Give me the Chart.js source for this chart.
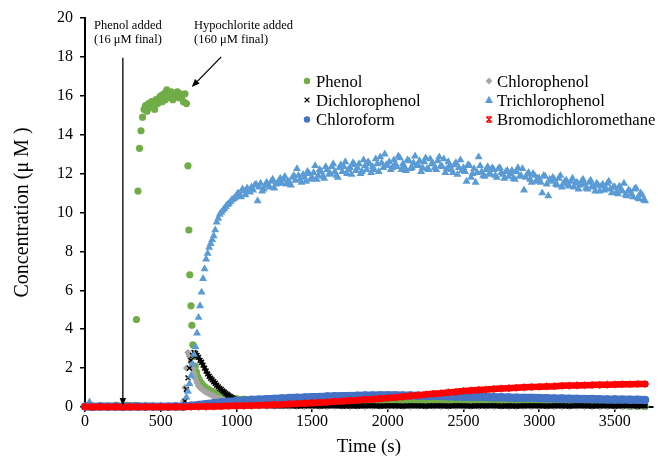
<!DOCTYPE html>
<html><head><meta charset="utf-8">
<script src="https://cdn.jsdelivr.net/npm/chart.js@4.4.1/dist/chart.umd.min.js"></script>
<style>html,body{margin:0;padding:0;background:#fff;}#wrap{width:658px;height:460px;}</style>
</head><body><div id="wrap"><canvas id="c" width="658" height="460"></canvas></div>
<script>
// ---------- tick labels / text ----------
const xTicks = [0,500,1000,1500,2000,2500,3000,3500];
const yTicks = [0,2,4,6,8,10,12,14,16,18,20];
const xTitle = "Time (s)";
const yTitle = "Concentration (\u03bc M )";
const seriesNames = ["Phenol","Chlorophenol","Dichlorophenol","Trichlorophenol","Chloroform","Bromodichloromethane"];
const note1 = ["Phenol added","(16 \u03bcM final)"];
const note2 = ["Hypochlorite added","(160 \u03bcM final)"];

// ---------- shared time grids (s) ----------
const headT50 = [0,50,100,150,200,250,300,350,400,450,500,550,600,650,700,750,800,850,900,950,1000];
const tailT = [1050,1100,1150,1200,1250,1300,1350,1400,1450,1500,1550,1600,1650,1700,1750,1800,1850,1900,1950,2000,
  2050,2100,2150,2200,2250,2300,2350,2400,2450,2500,2550,2600,2650,2700,2750,2800,2850,2900,2950,3000,
  3050,3100,3150,3200,3250,3300,3350,3400,3450,3500,3550,3600,3650,3700];

// ---------- Phenol ----------
const phenolHeadT = [0,60,120,180,210,275,330,
  340,350,360,370,380,390,400,410,420,430,440,450,460,470,480,490,500,510,520,530,540,550,560,570,580,590,600,610,620,630,640,650,660,670,
  680,686,692,700,706,712,720,728,736,745,755,765,775,790,805,820,840,860,880,900,925,950,975,1000];
const phenolHeadY = [0.02,0.01,0.03,0.02,0.08,0.08,0.08,
  4.5,11.1,13.3,14.2,14.9,15.3,15.5,15.2,15.6,15.4,
  15.7,15.5,15.3,15.8,15.6,15.9,16.0,15.7,16.1,15.8,
  16.3,16.0,15.9,16.2,15.8,16.1,16.0,16.2,15.9,16.1,
  16.0,15.7,16.1,15.6,
  12.4,9.1,6.8,5.2,4.2,3.2,2.6,2.1,1.8,1.55,1.4,1.25,1.15,1.05,0.95,0.88,0.8,0.72,0.66,0.6,0.55,0.5,0.46,0.42];
const phenolTailY = [0.40,0.41,0.38,0.39,0.37,0.38,0.36,0.37,0.35,0.36,
  0.34,0.35,0.33,0.34,0.32,0.33,0.31,0.32,0.30,0.31,
  0.29,0.30,0.28,0.29,0.27,0.28,0.26,0.27,0.25,0.26,
  0.24,0.23,0.23,0.21,0.21,0.19,0.19,0.17,0.16,0.15,
  0.14,0.13,0.13,0.11,0.10,0.10,0.08,0.07,0.07,0.05,
  0.05,0.04,0.04,0.03];

// ---------- Chlorophenol ----------
const cpHeadT = [0,100,200,300,400,500,600,
  650,660,670,680,690,700,710,720,730,740,750,760,770,780,790,800,810,820,830,840,850,860,870,880,890,900,920,940,960,980,1000];
const cpHeadY = [0.01,0.01,0.01,0.01,0.01,0.01,0.01,
  0.3,1.0,2.0,2.8,2.6,2.3,2.0,1.7,1.45,1.25,
  1.08,1.0,0.93,0.87,0.81,0.76,0.72,0.68,0.64,0.6,
  0.56,0.53,0.5,0.46,0.43,0.4,
  0.34,0.28,0.22,0.17,0.12];
const cpTailY = [0.05,0.04,0.04,0.03,0.03,0.04,0.03,0.03,0.02,0.03,
  0.03,0.02,0.03,0.03,0.02,0.03,0.02,0.03,0.03,0.02,
  0.03,0.02,0.02,0.03,0.02,0.03,0.02,0.02,0.03,0.02,
  0.02,0.03,0.02,0.02,0.03,0.02,0.02,0.03,0.02,0.02,
  0.03,0.02,0.02,0.02,0.03,0.02,0.02,0.02,0.03,0.02,
  0.02,0.02,0.03,0.02];

// ---------- Dichlorophenol ----------
const dcpHeadT = [0,50,100,150,200,250,300,350,400,450,500,550,600,650,
  660,670,680,690,700,710,720,730,740,750,760,770,780,790,800,810,820,830,840,850,
  860,870,880,890,900,910,920,930,940,950,960,970,980,990,1000,1010,1020,1030,1040];
const dcpHeadY = [0.02,0.01,0.02,0.02,0.01,0.02,0.02,0.01,0.02,0.02,0.01,0.02,0.02,0.03,
  0.3,0.9,1.5,2.0,2.4,2.65,2.8,2.75,2.65,2.55,
  2.4,2.3,2.15,2.0,1.85,1.7,1.58,1.48,1.4,1.3,
  1.22,1.12,1.04,0.96,0.9,0.83,0.77,0.7,0.64,0.59,
  0.53,0.48,0.43,0.39,0.35,0.31,0.27,0.24,0.21];
const dcpTailY = [0.18,0.13,0.10,0.08,0.07,0.06,0.07,0.05,0.06,0.06,
  0.05,0.06,0.07,0.05,0.06,0.05,0.06,0.07,0.05,0.06,
  0.06,0.05,0.07,0.06,0.05,0.06,0.06,0.05,0.07,0.06,
  0.05,0.06,0.06,0.07,0.05,0.06,0.05,0.06,0.07,0.06,
  0.05,0.06,0.06,0.05,0.07,0.06,0.05,0.06,0.06,0.05,
  0.06,0.07,0.05,0.06];

// ---------- Trichlorophenol ----------
const tcpT = [30,100,200,300,400,500,600,
  670,680,690,700,710,720,730,740,750,760,770,780,790,800,810,820,830,840,850,860,870,880,890,
  900,920,940,960,980,1000,1020,1040,1060,1080,1100,1120,1140,1160,1180,1200,1220,1240,1260,1280,
  1300,1320,1340,1360,1380,1400,1420,1440,1460,1480,1500,1520,1540,1560,1580,1600,1620,1640,1660,1680,
  1700,1720,1740,1760,1780,1800,1820,1840,1860,1880,1900,1920,1940,1960,1980,2000,2020,2040,2060,2080,
  2100,2120,2140,2160,2180,2200,2220,2240,2260,2280,2300,2320,2340,2360,2380,2400,2420,2440,2460,2480,
  2500,2520,2540,2560,2580,2600,2620,2640,2660,2680,2700,2720,2740,2760,2780,2800,2820,2840,2860,2880,
  2900,2920,2940,2960,2980,3000,3020,3040,3060,3080,3100,3120,3140,3160,3180,3200,3220,3240,3260,3280,
  3300,3320,3340,3360,3380,3400,3420,3440,3460,3480,3500,3520,3540,3560,3580,3600,3620,3640,3660,3680,3700];
const tcpY = [0.25,0.05,0.05,0.04,0.05,0.05,0.05,
  0.5,0.8,1.2,1.6,2.2,2.7,3.1,3.8,4.6,5.2,5.9,6.6,7.1,7.6,7.9,8.2,8.4,8.6,8.8,9.1,9.5,9.7,9.9,
  10.0,10.2,10.4,10.55,10.7,
  10.85,10.95,11.2,10.9,11.15,
  11.3,11.4,10.6,11.5,11.2,
  11.55,11.3,11.7,11.45,11.6,
  11.5,11.85,11.6,11.4,11.9,
  12.25,11.7,11.95,11.6,12.0,
  11.8,12.4,11.9,12.1,11.75,
  12.2,12.0,12.5,11.9,12.3,
  12.1,12.6,12.2,11.95,12.45,
  12.3,12.0,12.7,12.2,12.5,
  12.35,12.75,12.1,12.55,13.0,
  12.4,12.2,12.7,12.35,12.8,
  12.5,12.15,12.65,12.3,12.9,
  12.45,12.1,12.6,12.25,12.75,
  12.5,12.2,12.85,12.35,12.05,
  12.6,12.2,12.45,11.95,12.7,
  12.3,11.6,12.4,12.0,11.55,
  12.85,12.1,11.85,12.35,11.95,
  12.2,11.8,12.3,11.95,12.1,
  11.85,12.15,11.7,12.3,11.9,
  11.15,11.95,11.7,12.0,11.6,
  11.75,11.0,11.85,10.85,11.6,
  11.7,11.4,11.9,11.5,11.65,
  11.35,11.75,11.5,11.2,11.6,
  11.45,11.2,11.65,11.3,11.5,
  11.1,11.45,11.25,11.6,11.0,
  11.3,10.95,11.2,11.5,10.85,
  11.1,10.8,11.25,10.7,10.9,
  10.6];
// interleaved readings (odd 10 s)
const tcpT2 = [910,930,950,970,990,1010,1030,1050,1070,1090,1110,1130,1150,1170,1190,1210,1230,1250,1270,1290,
  1310,1330,1350,1370,1390,1410,1430,1450,1470,1490,1510,1530,1550,1570,1590,1610,1630,1650,1670,1690,
  1710,1730,1750,1770,1790,1810,1830,1850,1870,1890,1910,1930,1950,1970,1990,2010,2030,2050,2070,2090,
  2110,2130,2150,2170,2190,2210,2230,2250,2270,2290,2310,2330,2350,2370,2390,2410,2430,2450,2470,2490,
  2510,2530,2550,2570,2590,2610,2630,2650,2670,2690,2710,2730,2750,2770,2790,2810,2830,2850,2870,2890,
  2910,2930,2950,2970,2990,3010,3030,3050,3070,3090,3110,3130,3150,3170,3190,3210,3230,3250,3270,3290,
  3310,3330,3350,3370,3390,3410,3430,3450,3470,3490,3510,3530,3550,3570,3590,3610,3630,3650,3670,3690];
const tcpY2 = [10.1,10.3,10.45,10.65,10.75,
  11.0,10.8,11.1,11.25,11.05,
  11.15,11.45,11.3,11.1,11.4,
  11.4,11.6,11.25,11.5,11.75,
  11.7,11.45,11.55,11.8,11.65,
  11.9,11.55,11.8,12.1,11.7,
  12.05,11.7,12.2,11.85,12.35,
  11.95,12.35,12.1,11.8,12.45,
  12.35,12.0,12.3,12.55,12.15,
  12.5,12.1,12.4,12.6,12.05,
  12.2,12.5,12.85,12.3,12.45,
  12.6,12.3,12.5,12.9,12.2,
  12.35,12.7,12.25,12.55,12.4,
  12.65,12.3,12.8,12.2,12.5,
  12.3,12.65,12.4,12.75,12.25,
  12.4,12.05,12.55,12.3,12.15,
  12.1,12.45,11.8,12.25,12.05,
  12.4,11.9,12.2,12.0,12.3,
  11.9,12.25,12.05,11.75,12.15,
  12.0,11.75,12.1,11.85,12.25,
  11.8,12.05,11.55,11.9,11.75,
  11.55,11.9,11.45,11.7,11.8,
  11.45,11.75,11.3,11.6,11.4,
  11.6,11.3,11.55,11.4,11.7,
  11.25,11.55,11.35,11.1,11.4,
  11.35,11.15,11.5,11.2,11.3,
  11.05,11.35,11.1,10.9,11.15,
  10.95,11.2,10.75,11.0,10.65];

// ---------- Chloroform ----------
const cfY = [0.02,0.01,0.03,0.02,0.02,0.01,0.02,0.03,0.02,0.02,0.01,0.02,0.03,0.02,
  0.07,0.11,0.15,0.19,0.23,0.27,0.31,
  0.33,0.36,0.38,0.40,0.42,0.44,0.46,0.48,0.49,0.51,
  0.52,0.54,0.55,0.56,0.57,0.58,0.59,0.59,0.60,0.60,
  0.60,0.59,0.59,0.58,0.57,0.57,0.56,0.55,0.54,0.53,
  0.53,0.52,0.51,0.50,0.50,0.49,0.48,0.47,0.47,0.46,
  0.45,0.44,0.44,0.43,0.42,0.41,0.41,0.40,0.39,0.39,
  0.38,0.37,0.37,0.36];

// ---------- Bromodichloromethane ----------
const bdcmY = [0.01,0.0,0.01,0.0,0.01,0.0,0.01,0.0,0.01,0.0,0.01,0.0,0.01,0.0,
  0.01,0.02,0.02,0.03,0.04,0.05,0.06,
  0.07,0.08,0.09,0.10,0.12,0.13,0.15,0.17,0.19,0.21,
  0.23,0.25,0.28,0.30,0.33,0.35,0.38,0.40,0.43,0.46,
  0.49,0.53,0.57,0.60,0.64,0.68,0.71,0.75,0.78,0.82,
  0.85,0.88,0.90,0.93,0.95,0.97,0.99,1.01,1.03,1.04,
  1.06,1.07,1.09,1.10,1.11,1.12,1.13,1.14,1.15,1.16,
  1.17,1.17,1.18,1.18];

// ---------- build ----------
function zip(ts, ys){ const n=Math.min(ts.length, ys.length); const out=[]; for(let i=0;i<n;i++) out.push({x:ts[i], y:ys[i]}); return out; }
const t50 = headT50.concat(tailT);
const phenolData = zip(phenolHeadT.concat(tailT), phenolHeadY.concat(phenolTailY));
const cpData = zip(cpHeadT.concat(tailT), cpHeadY.concat(cpTailY));
const dcpData = zip(dcpHeadT.concat(tailT), dcpHeadY.concat(dcpTailY));
const tcpData = zip(tcpT, tcpY).concat(zip(tcpT2, tcpY2)).sort((a,b)=>a.x-b.x);
const cfData = zip(t50, cfY);
const bdcmData = zip(t50, bdcmY);

const colors = ['#70AD47','#A5A5A5','#000000','#5B9BD5','#4472C4','#FF0000'];
const styles = ['circle','rectRot','crossRot','triangle','circle','star'];
const radii = [3.6,3.6,3.4,4.6,4.2,3.8];
// band (connecting) widths and start time of the dense, continuous part of each series
const bandW = [6,5,4,0,8,6.5];
const bandFrom = [736,680,715,1e9,0,0];
const allData = [phenolData,cpData,dcpData,tcpData,cfData,bdcmData];

const datasets = allData.map((d,i)=>({
  label: seriesNames[i], data: d,
  pointStyle: styles[i], pointRadius: radii[i], pointHoverRadius: radii[i],
  backgroundColor: colors[i], borderColor: colors[i],
  pointBorderColor: colors[i], pointBackgroundColor: colors[i],
  pointBorderWidth: (styles[i]==='crossRot'||styles[i]==='star') ? 1.5 : 0,
  showLine: bandW[i] > 0, borderWidth: bandW[i], tension: 0,
  borderCapStyle: 'round', borderJoinStyle: 'round',
  segment: {
    borderColor: ctx => (ctx.p0.parsed.x < bandFrom[i] ? 'rgba(0,0,0,0)' : colors[i]),
    borderWidth: ctx => (i === 2 && ctx.p0.parsed.x >= 1050 ? 5 : bandW[i])
  },
  clip: false, order: 6 - i
}));

const serif = '"Liberation Serif", "Times New Roman", serif';

function drawMarker(ctx, style, x, y, r, color){
  ctx.save();
  ctx.fillStyle = color; ctx.strokeStyle = color; ctx.lineWidth = 1.3;
  ctx.beginPath();
  if (style === 'circle'){ ctx.arc(x,y,r,0,Math.PI*2); ctx.fill(); }
  else if (style === 'rectRot'){ ctx.moveTo(x,y-r); ctx.lineTo(x+r,y); ctx.lineTo(x,y+r); ctx.lineTo(x-r,y); ctx.closePath(); ctx.fill(); }
  else if (style === 'triangle'){ ctx.moveTo(x,y-r); ctx.lineTo(x+r*0.95,y+r*0.7); ctx.lineTo(x-r*0.95,y+r*0.7); ctx.closePath(); ctx.fill(); }
  else if (style === 'crossRot'){ const a=r*0.75; ctx.moveTo(x-a,y-a); ctx.lineTo(x+a,y+a); ctx.moveTo(x+a,y-a); ctx.lineTo(x-a,y+a); ctx.stroke(); }
  else if (style === 'star'){ const a=r*0.75; ctx.moveTo(x-a,y-a); ctx.lineTo(x+a,y+a); ctx.moveTo(x+a,y-a); ctx.lineTo(x-a,y+a); ctx.moveTo(x-a,y-a); ctx.lineTo(x+a,y-a); ctx.moveTo(x-a,y+a); ctx.lineTo(x+a,y+a); ctx.stroke(); }
  ctx.restore();
}

function arrow(ctx, x1, y1, x2, y2){
  const ang = Math.atan2(y2-y1, x2-x1), L = 8, W = 3.2;
  const bx = x2 - L*Math.cos(ang), by = y2 - L*Math.sin(ang);
  ctx.beginPath(); ctx.moveTo(x1,y1); ctx.lineTo(bx,by); ctx.stroke();
  ctx.beginPath(); ctx.moveTo(x2,y2);
  ctx.lineTo(bx + W*Math.sin(ang), by - W*Math.cos(ang));
  ctx.lineTo(bx - W*Math.sin(ang), by + W*Math.cos(ang));
  ctx.closePath(); ctx.fill();
}

const extras = {
  id: 'extras',
  afterDraw(chart){
    const {ctx, scales:{x, y}} = chart;
    ctx.save();
    ctx.fillStyle = '#000'; ctx.strokeStyle = '#000'; ctx.lineWidth = 1.3;
    arrow(ctx, x.getPixelForValue(250), y.getPixelForValue(17.95), x.getPixelForValue(250), y.getPixelForValue(0.05));
    arrow(ctx, x.getPixelForValue(900), y.getPixelForValue(18.0), x.getPixelForValue(705), y.getPixelForValue(16.45));
    ctx.font = '12.5px ' + serif; ctx.textAlign = 'left'; ctx.textBaseline = 'alphabetic';
    ctx.fillText(note1[0], 94, 29); ctx.fillText(note1[1], 94, 43);
    ctx.fillText(note2[0], 194, 29); ctx.fillText(note2[1], 194, 43);
    const colM = [307, 489], colT = [316, 497], rowB = [86.5, 105.5, 125];
    const lr = [3.2,3.4,3.2,4.2,3.2,3.6];
    ctx.font = '16.7px ' + serif;
    seriesNames.forEach((name,i)=>{
      const c = i%2, r = Math.floor(i/2);
      drawMarker(ctx, styles[i], colM[c], rowB[r]-5.5, lr[i], colors[i]);
      ctx.fillStyle = '#000';
      ctx.fillText(name, colT[c], rowB[r]);
    });
    ctx.restore();
  }
};

new Chart(document.getElementById('c'), {
  type: 'scatter',
  data: { datasets },
  options: {
    responsive: false, animation: false, devicePixelRatio: 1,
    layout: { padding: { top: 18, right: 2, left: 0, bottom: 0 } },
    plugins: { legend: { display: false }, tooltip: { enabled: false } },
    scales: {
      x: {
        type: 'linear', min: 0, max: 3750,
        afterBuildTicks: s => { s.ticks = xTicks.map(v => ({ value: v })); },
        afterFit: s => { s.height = 53; },
        ticks: { font: { family: serif, size: 16 }, color: '#000', padding: 0, maxRotation: 0, callback: v => String(v) },
        grid: { drawOnChartArea: false, drawTicks: true, tickLength: 5, color: '#000', lineWidth: 1.5 },
        border: { display: true, color: '#000', width: 2 },
        title: { display: true, text: xTitle, color: '#000', font: { family: serif, size: 19 }, padding: { top: 0, bottom: 2 } }
      },
      y: {
        type: 'linear', min: 0, max: 20,
        afterBuildTicks: s => { s.ticks = yTicks.map(v => ({ value: v })); },
        afterFit: s => { s.width = 85; },
        ticks: { font: { family: serif, size: 16 }, color: '#000', padding: 7, callback: v => String(v) },
        grid: { drawOnChartArea: false, drawTicks: true, tickLength: 5, color: '#000', lineWidth: 1.5 },
        border: { display: true, color: '#000', width: 2 },
        title: { display: true, text: yTitle, color: '#000', font: { family: serif, size: 20 }, padding: { top: 11, bottom: 0 } }
      }
    }
  },
  plugins: [extras]
});
</script>
</body></html>
